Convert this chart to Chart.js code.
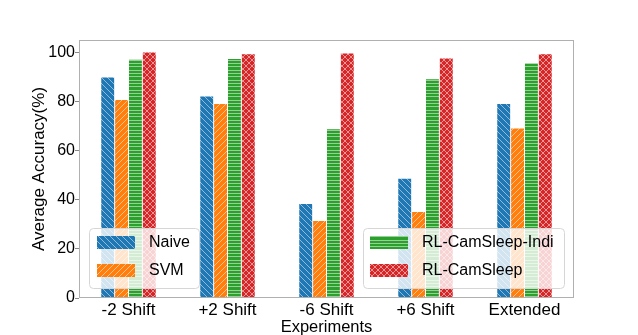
<!DOCTYPE html>
<html>
<head>
<meta charset="utf-8">
<script src="https://cdn.jsdelivr.net/npm/chart.js@4.4.1/dist/chart.umd.min.js"></script>
<style>
  html, body { margin: 0; padding: 0; background: #fff; }
  canvas { display: block; }
</style>
</head>
<body>
<canvas id="grafico" width="638" height="335"></canvas>
<script>
// Datos
const experimentos = ['-2 Shift', '+2 Shift', '-6 Shift', '+6 Shift', 'Extended'];
const naive = [89.7, 82, 38.3, 48.5, 79];
const svm = [80.6, 79, 31.3, 35, 69];
const camSleepIndi = [97, 97.3, 68.7, 89, 95.5];
const camSleep = [99.9, 99.2, 99.5, 97.5, 99.2];
const yTicks = [0, 20, 40, 60, 80, 100];

// Patrones de trama (hatch) estilo matplotlib
function crearTrama(color, tipo) {
    const size = tipo === 'h' ? 10 : 6;
    const c = document.createElement('canvas');
    c.width = size; c.height = size;
    const g = c.getContext('2d');
    g.fillStyle = color;
    g.fillRect(0, 0, size, size);
    g.strokeStyle = 'rgba(255,255,255,0.5)';
    g.lineWidth = 1;
    g.beginPath();
    if (tipo === 'h') {
        [0.5, 3.5, 6.5].forEach(y => { g.moveTo(0, y); g.lineTo(size, y); });
    } else {
        for (let k = -1; k <= 1; k++) {
            if (tipo === 'b' || tipo === 'x') { g.moveTo(k * size, 0); g.lineTo(k * size + size, size); }
            if (tipo === 'f' || tipo === 'x') { g.moveTo(k * size, size); g.lineTo(k * size + size, 0); }
        }
    }
    g.stroke();
    return g.createPattern(c, 'repeat');
}

const ctx = document.getElementById('grafico').getContext('2d');
const tramas = {
    naive: crearTrama('#1f77b4', 'b'),
    svm: crearTrama('#ff7f0e', 'f'),
    indi: crearTrama('#2ca02c', 'h'),
    sleep: crearTrama('#d62728', 'x')
};

Chart.defaults.font.family = '"Liberation Sans", Arial, sans-serif';
Chart.defaults.color = '#000';

function dibujarLeyenda(c, x, y, w, items, textX, patchX) {
    c.save();
    c.beginPath();
    c.roundRect(x + 0.5, y + 0.5, w, 60, 4);
    c.fillStyle = 'rgba(255,255,255,0.8)';
    c.fill();
    c.strokeStyle = '#d6d6d6';
    c.lineWidth = 1;
    c.stroke();
    c.font = '16px "Liberation Sans", Arial, sans-serif';
    c.textBaseline = 'middle';
    items.forEach((it, i) => {
        const py = y + 8 + i * 28;
        c.fillStyle = it.fill;
        c.fillRect(x + patchX, py, 38, 13);
        c.fillStyle = '#000';
        c.fillText(it.label, x + textX, py + 7);
    });
    c.restore();
}

const marcoYLeyenda = {
    id: 'marcoYLeyenda',
    afterDatasetsDraw(chart) {
        const c = chart.ctx;
        const a = chart.chartArea;
        c.save();
        c.strokeStyle = '#b0b0b0';
        c.lineWidth = 1;
        c.strokeRect(a.left + 0.5, a.top + 0.5, a.right - a.left - 1, a.bottom - a.top - 1);
        c.restore();
        const ds = chart.data.datasets;
        dibujarLeyenda(c, a.left + 10, a.bottom - 70, 110,
            [ds[0], ds[1]].map(d => ({ label: d.label, fill: d.backgroundColor })), 60, 8);
        dibujarLeyenda(c, a.right - 211, a.bottom - 70, 201,
            [ds[2], ds[3]].map(d => ({ label: d.label, fill: d.backgroundColor })), 59, 7);
    }
};

const comunes = {
    categoryPercentage: 0.56,
    barPercentage: 0.93,
    borderWidth: 0
};

new Chart(ctx, {
    type: 'bar',
    data: {
        labels: experimentos,
        datasets: [
            { label: 'Naive', data: naive, backgroundColor: tramas.naive, ...comunes },
            { label: 'SVM', data: svm, backgroundColor: tramas.svm, ...comunes },
            { label: 'RL-CamSleep-Indi', data: camSleepIndi, backgroundColor: tramas.indi, ...comunes },
            { label: 'RL-CamSleep', data: camSleep, backgroundColor: tramas.sleep, ...comunes }
        ]
    },
    options: {
        responsive: false,
        devicePixelRatio: 1,
        animation: false,
        layout: { padding: { left: 0, top: 40, right: 64, bottom: 0 } },
        plugins: {
            legend: { display: false },
            tooltip: { enabled: false }
        },
        scales: {
            x: {
                offset: true,
                grid: { display: false },
                border: { display: false },
                ticks: { font: { size: 17, lineHeight: 1 }, padding: -4, maxRotation: 0 },
                title: {
                    display: true,
                    text: 'Experiments',
                    font: { size: 16.5, lineHeight: 1 },
                    padding: { bottom: -1 }
                },
                afterFit: s => { s.height = 37; }
            },
            y: {
                min: 0,
                max: 105,
                afterBuildTicks: s => { s.ticks = yTicks.map(v => ({ value: v })); },
                grid: { drawOnChartArea: false, tickLength: 4, tickColor: '#888' },
                border: { display: false },
                ticks: { font: { size: 16 }, padding: 0 },
                title: {
                    display: true,
                    text: 'Average Accuracy(%)',
                    font: { size: 17, lineHeight: 1 },
                    padding: { top: 31 }
                },
                afterFit: s => { s.width = 79; }
            }
        }
    },
    plugins: [marcoYLeyenda]
});
</script>
</body>
</html>
